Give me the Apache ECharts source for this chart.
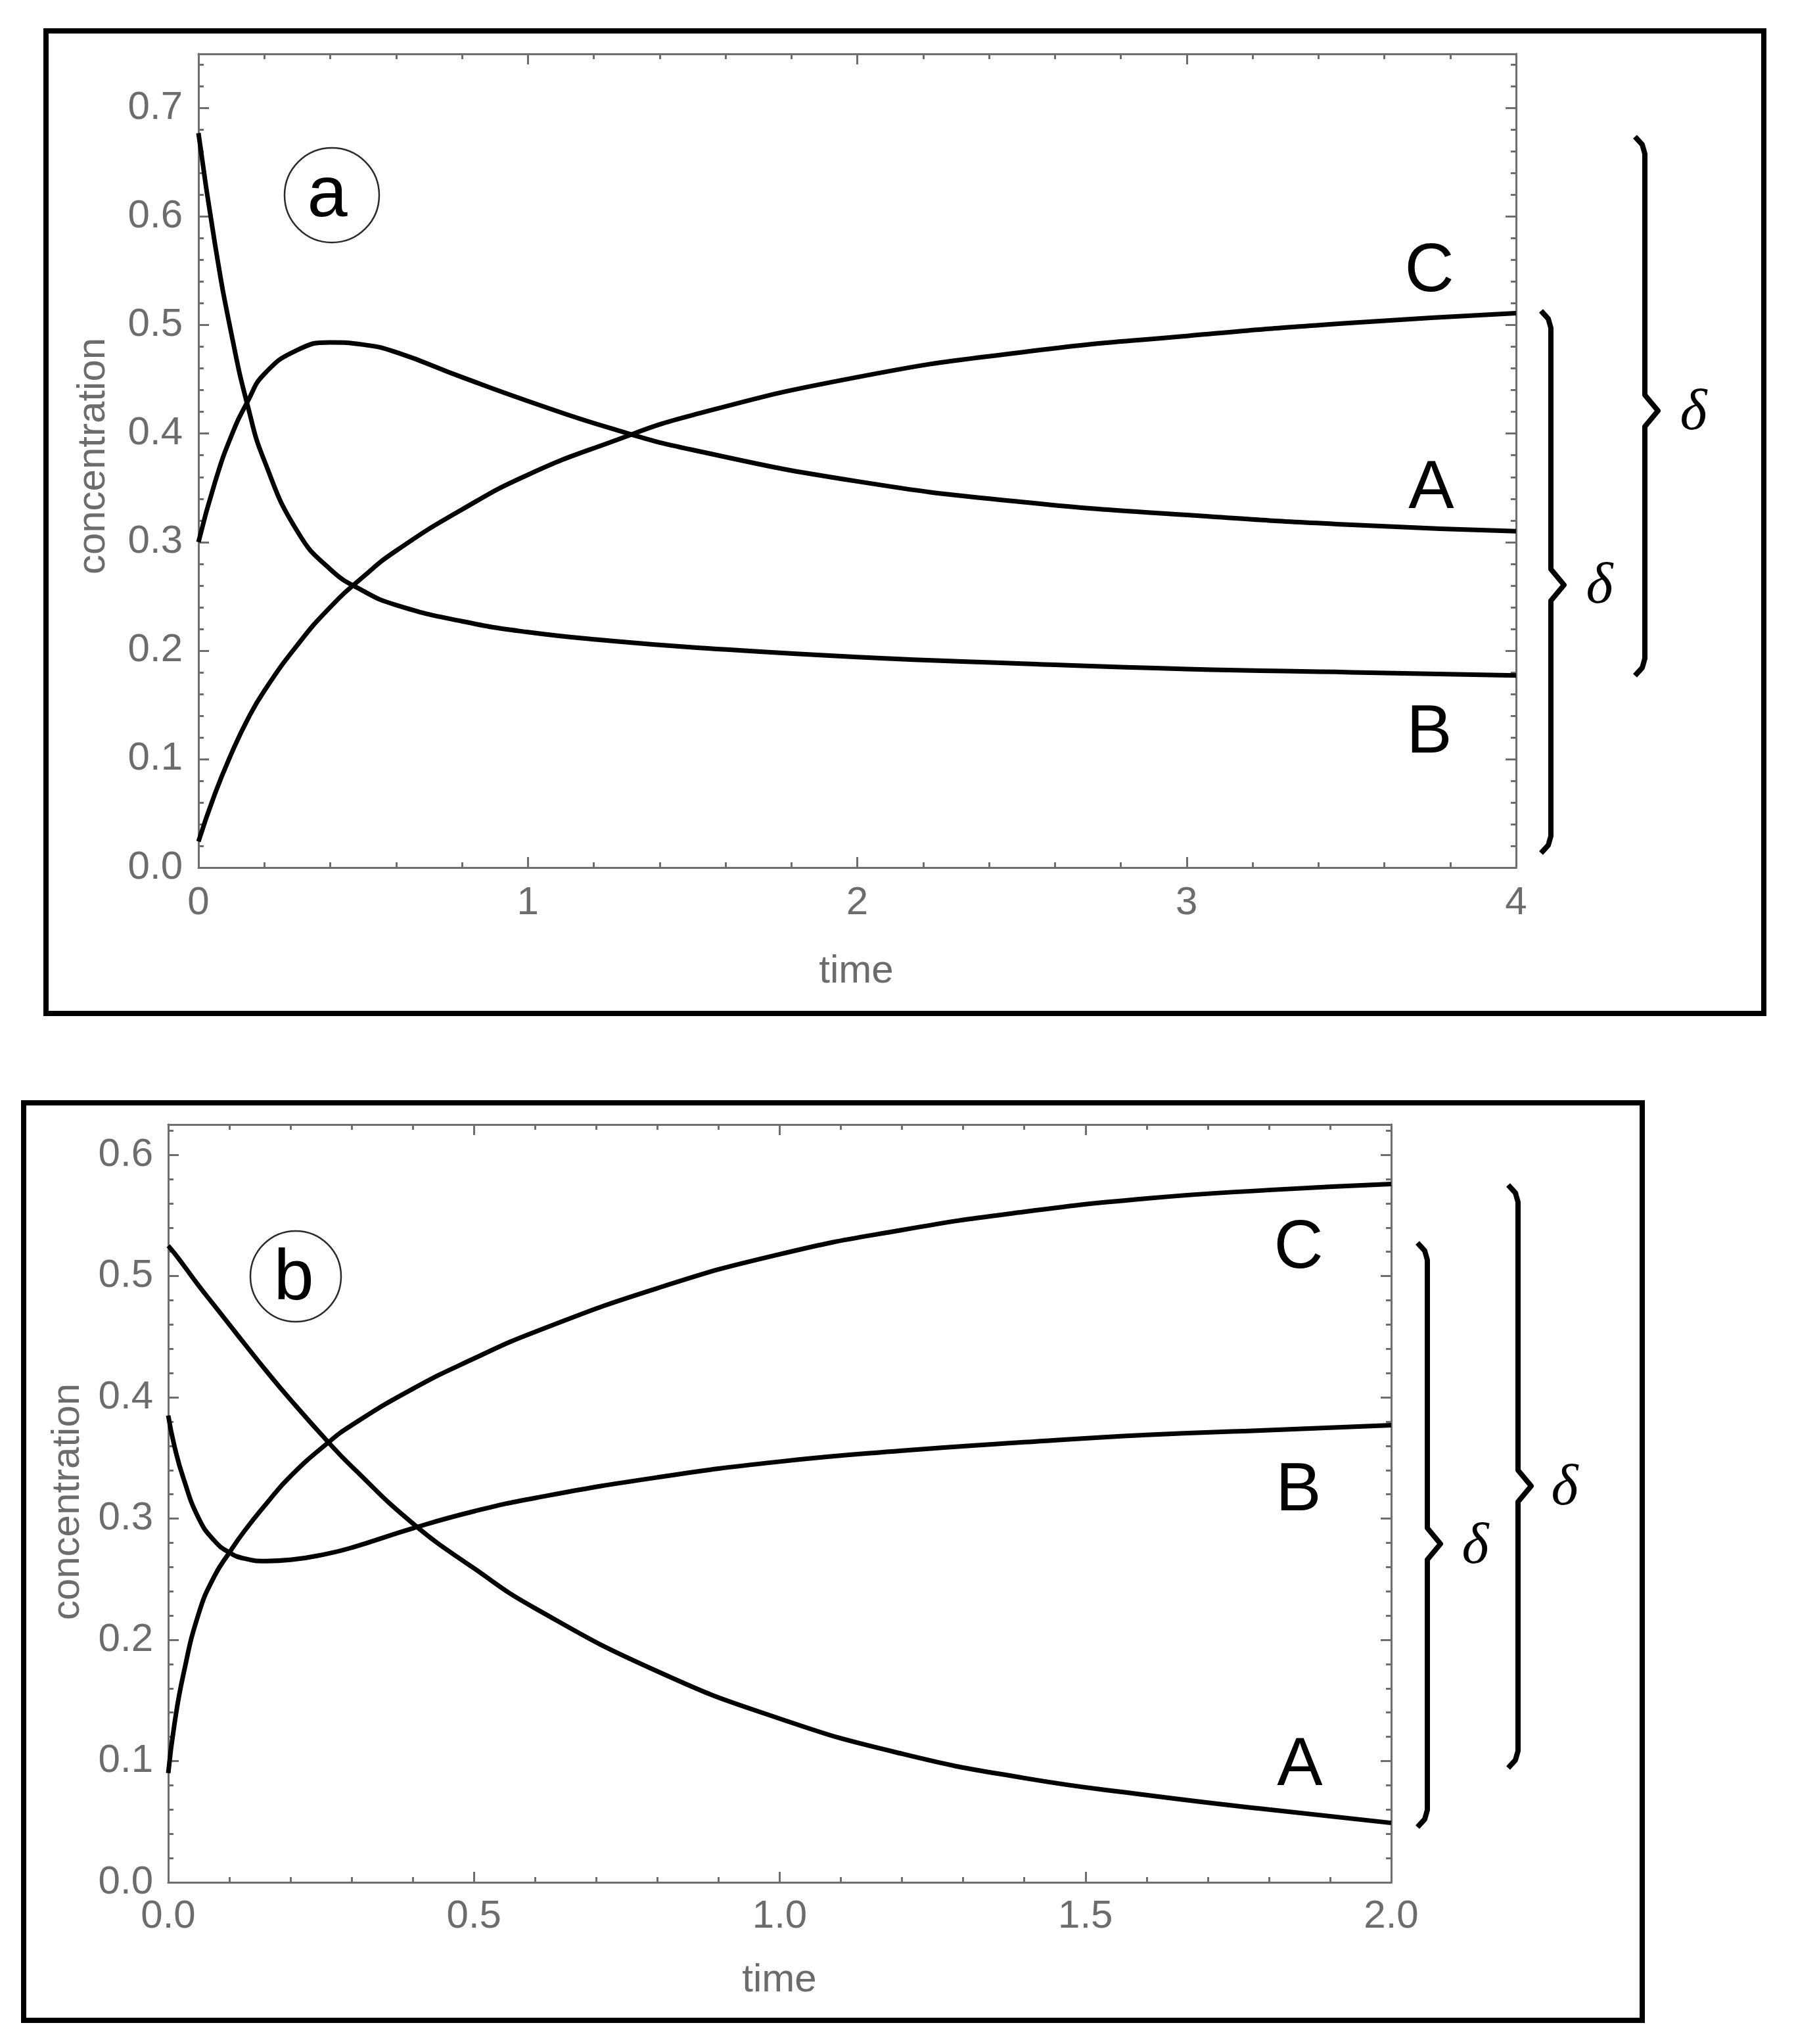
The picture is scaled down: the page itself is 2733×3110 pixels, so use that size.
<!DOCTYPE html>
<html>
<head>
<meta charset="utf-8">
<title>concentration vs time</title>
<script src="https://cdn.jsdelivr.net/npm/echarts@6.0.0/dist/echarts.min.js"></script>
<style>
  html, body { margin: 0; padding: 0; background: #fff; }
  #chart { width: 2733px; height: 3110px; }
</style>
</head>
<body>
<div id="chart"></div>
<script>
// panel (a) : values
const aTime   = [0, 0.05, 0.1, 0.15, 0.2, 0.3, 0.4, 0.5, 0.6, 0.8, 1.0, 1.25, 1.5, 2.0, 2.5, 3.0, 3.5, 4.0]
const aCurveA = [0.300, 0.355, 0.398, 0.430, 0.455, 0.477, 0.484, 0.482, 0.475, 0.452, 0.430, 0.405, 0.385, 0.356, 0.337, 0.325, 0.316, 0.310]
const aCurveB = [0.677, 0.575, 0.492, 0.425, 0.375, 0.310, 0.275, 0.255, 0.242, 0.227, 0.217, 0.209, 0.203, 0.194, 0.188, 0.183, 0.180, 0.177]
const aCurveC = [0.024, 0.068, 0.105, 0.137, 0.163, 0.205, 0.240, 0.268, 0.292, 0.330, 0.362, 0.392, 0.417, 0.452, 0.475, 0.490, 0.502, 0.511]

// panel (b)
const bTime   = [0, 0.01, 0.025, 0.05, 0.075, 0.1, 0.125, 0.16, 0.2, 0.26, 0.3, 0.4, 0.5, 0.6, 0.8, 1.0, 1.2, 1.4, 1.6, 1.8, 2.0]
const bCurveA = [0.525, 0.519, 0.509, 0.492, 0.476, 0.460, 0.444, 0.422, 0.398, 0.364, 0.343, 0.296, 0.259, 0.226, 0.174, 0.135, 0.106, 0.086, 0.072, 0.060, 0.049]
const bCurveB = [0.385, 0.360, 0.333, 0.300, 0.282, 0.272, 0.267, 0.265, 0.266, 0.271, 0.276, 0.292, 0.306, 0.317, 0.334, 0.347, 0.356, 0.363, 0.369, 0.373, 0.377]
const bCurveC = [0.090, 0.130, 0.172, 0.222, 0.252, 0.272, 0.290, 0.312, 0.335, 0.362, 0.377, 0.407, 0.432, 0.454, 0.490, 0.518, 0.538, 0.553, 0.564, 0.571, 0.576]

// ticks
const aXTicks = [0, 1, 2, 3, 4]
const aYTicks = [0, 0.1, 0.2, 0.3, 0.4, 0.5, 0.6, 0.7]
const bXTicks = [0, 0.5, 1, 1.5, 2]
const bYTicks = [0, 0.1, 0.2, 0.3, 0.4, 0.5, 0.6]
const aYMax = 0.75
const bYMax = 0.625

const FONT = '"Liberation Sans", Arial, sans-serif'
const GRAY = '#6e6e6e'
const LABEL_GRAY = '#6c6c6c'

// minor ticks every 0.02 on y (not the majors)
function minorY(max) {
  let out = []
  for (let k = 1; k * 0.02 < max - 1e-9; k++) {
    if (k % 5 !== 0) out.push(+(k * 0.02).toFixed(2))
  }
  return out
}

function zip(t, v) {
  return t.map((x, i) => [x, v[i]])
}

const lineBase = { color: GRAY, width: 3 }

function xAx(grid, ticks, pos, showLabel, fmt, margin) {
  return {
    gridIndex: grid, type: 'value', position: pos,
    min: ticks[0], max: ticks[ticks.length - 1], interval: ticks[1] - ticks[0],
    axisLine: { show: true, onZero: false, lineStyle: lineBase },
    axisTick: { show: true, inside: true, length: 16, lineStyle: lineBase },
    minorTick: { show: true, splitNumber: 5, length: 8, lineStyle: lineBase },
    splitLine: { show: false }, minorSplitLine: { show: false },
    axisLabel: { show: showLabel, margin: margin, color: LABEL_GRAY, fontSize: 60, fontFamily: FONT, formatter: fmt }
  }
}

function yAx(grid, max, values, len, pos, showLabel, margin) {
  return {
    gridIndex: grid, type: 'value', position: pos, min: 0, max: max,
    axisLine: { show: true, onZero: false, lineStyle: lineBase },
    axisTick: { show: true, inside: true, length: len, customValues: values, lineStyle: lineBase },
    minorTick: { show: false },
    splitLine: { show: false },
    axisLabel: {
      show: showLabel, customValues: values, margin: margin, color: LABEL_GRAY,
      fontSize: 60, fontFamily: FONT, formatter: v => v.toFixed(1)
    }
  }
}

function curve(xi, yi, t, v) {
  return {
    type: 'line', xAxisIndex: xi, yAxisIndex: yi, data: zip(t, v),
    showSymbol: false, smooth: 0.5, silent: true,
    lineStyle: { color: '#000', width: 7 }
  }
}

function txt(x, y, s, size, opts) {
  opts = opts || {}
  return {
    type: 'text', x: x, y: y, rotation: opts.rot || 0, z: 50,
    style: {
      text: s, fontSize: size, fontFamily: opts.family || FONT,
      fontStyle: opts.italic ? 'italic' : 'normal',
      fill: opts.color || '#000', align: 'center', verticalAlign: 'middle',
      textAlign: 'center', textVerticalAlign: 'middle'
    }
  }
}

function box(x0, y0, x1, y1) {
  return {
    type: 'rect', z: 40, shape: { x: x0, y: y0, width: x1 - x0, height: y1 - y0 },
    style: { fill: 'none', stroke: '#000', lineWidth: 8 }
  }
}

function ring(cx, cy, r) {
  return {
    type: 'circle', z: 40, shape: { cx: cx, cy: cy, r: r },
    style: { fill: 'none', stroke: '#2a2a2a', lineWidth: 2.5 }
  }
}

// curly brace: x of the stem, top/bottom hook tips, middle notch
function brace(x, top, bottom, mid) {
  return {
    type: 'polyline', z: 40,
    shape: {
      points: [
        [x - 15, top], [x - 4, top + 12], [x, top + 26],
        [x, mid - 24], [x + 20, mid], [x, mid + 24],
        [x, bottom - 26], [x - 4, bottom - 12], [x - 15, bottom]
      ]
    },
    style: { fill: 'none', stroke: '#000', lineWidth: 8, lineJoin: 'round' }
  }
}

var dom = document.getElementById('chart')
var myChart = echarts.init(dom, null, { renderer: 'canvas' })

const option = {
  animation: false,
  backgroundColor: '#fff',
  grid: [
    { left: 302, top: 82, width: 2005, height: 1238, outerBoundsMode: 'none', containLabel: false },
    { left: 256, top: 1711, width: 1861, height: 1153, outerBoundsMode: 'none', containLabel: false }
  ],
  xAxis: [
    xAx(0, aXTicks, 'bottom', true, v => String(v), 24),
    xAx(0, aXTicks, 'top', false, null, 0),
    xAx(1, bXTicks, 'bottom', true, v => v.toFixed(1), 22),
    xAx(1, bXTicks, 'top', false, null, 0)
  ],
  yAxis: [
    yAx(0, aYMax, aYTicks, 16, 'left', true, 24),
    yAx(0, aYMax, minorY(aYMax), 8, 'left', false, 0),
    yAx(0, aYMax, aYTicks, 16, 'right', false, 0),
    yAx(0, aYMax, minorY(aYMax), 8, 'right', false, 0),
    yAx(1, bYMax, bYTicks, 16, 'left', true, 23),
    yAx(1, bYMax, minorY(bYMax), 8, 'left', false, 0),
    yAx(1, bYMax, bYTicks, 16, 'right', false, 0),
    yAx(1, bYMax, minorY(bYMax), 8, 'right', false, 0)
  ],
  series: [
    curve(0, 0, aTime, aCurveA),
    curve(0, 0, aTime, aCurveB),
    curve(0, 0, aTime, aCurveC),
    curve(2, 4, bTime, bCurveA),
    curve(2, 4, bTime, bCurveB),
    curve(2, 4, bTime, bCurveC)
  ],
  graphic: [
    box(70, 47, 2684, 1542),
    box(36, 1678, 2499, 3074),

    // axis titles
    txt(142, 694, 'concentration', 60, { rot: Math.PI / 2, color: LABEL_GRAY }),
    txt(1303, 1478, 'time', 60, { color: LABEL_GRAY }),
    txt(103, 2285, 'concentration', 60, { rot: Math.PI / 2, color: LABEL_GRAY }),
    txt(1186, 3013, 'time', 60, { color: LABEL_GRAY }),

    // panel tags
    ring(505, 297, 72),
    txt(498, 299, 'a', 110),
    ring(450, 1942, 69),
    txt(447, 1947, 'b', 110),

    // curve names
    txt(2175, 414, 'C', 104),
    txt(2178, 744, 'A', 104),
    txt(2175, 1116, 'B', 104),
    txt(1976, 1900, 'C', 104),
    txt(1976, 2269, 'B', 104),
    txt(1978, 2687, 'A', 104),

    // braces and deltas
    brace(2360, 473, 1298, 890),
    brace(2503, 208, 1028, 625),
    txt(2434, 894, 'δ', 88, { italic: true, family: '"Liberation Serif", "DejaVu Serif", serif' }),
    txt(2577, 630, 'δ', 88, { italic: true, family: '"Liberation Serif", "DejaVu Serif", serif' }),
    brace(2172, 1891, 2780, 2349),
    brace(2310, 1803, 2690, 2261),
    txt(2245, 2355, 'δ', 88, { italic: true, family: '"Liberation Serif", "DejaVu Serif", serif' }),
    txt(2381, 2266, 'δ', 88, { italic: true, family: '"Liberation Serif", "DejaVu Serif", serif' })
  ]
}

if (option && typeof option === 'object') {
  myChart.setOption(option, true)
}
</script>
</body>
</html>
